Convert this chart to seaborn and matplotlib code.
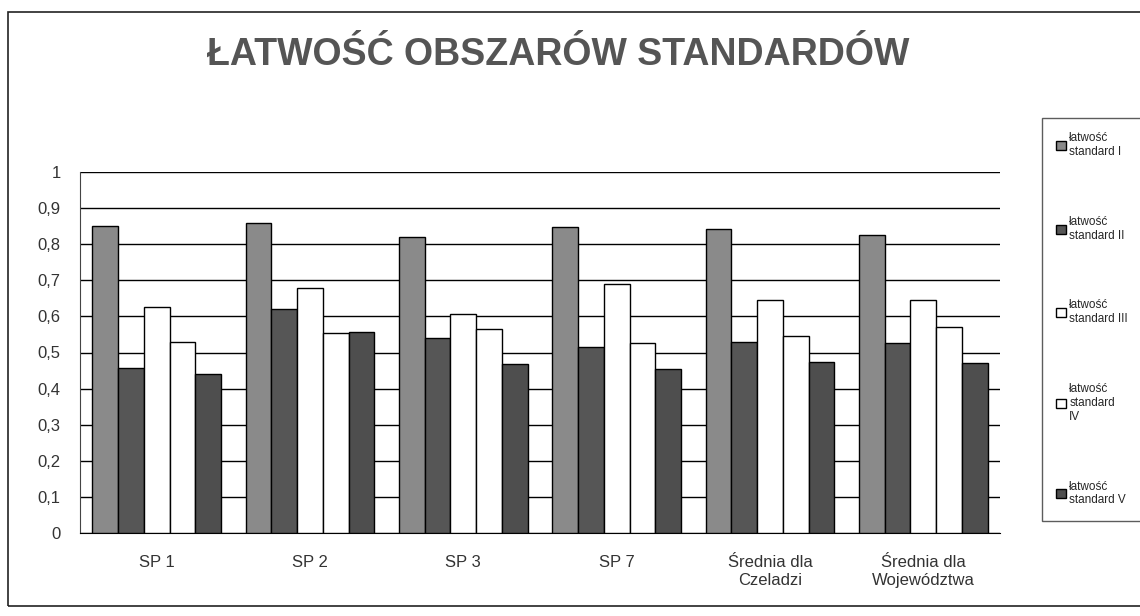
import pandas as pd
import seaborn as sns
from matplotlib import pyplot as plt
from matplotlib.patches import Rectangle
from matplotlib.ticker import FuncFormatter

schools = ['SP 1', 'SP 2', 'SP 3', 'SP 7', 'Średnia dla\nCzeladzi', 'Średnia dla\nWojewództwa']
standards = ['łatwość\nstandard I', 'łatwość\nstandard II', 'łatwość\nstandard III',
             'łatwość\nstandard\nIV', 'łatwość\nstandard V']

std_1 = [0.85, 0.86, 0.82, 0.848, 0.843, 0.826]
std_2 = [0.458, 0.62, 0.54, 0.515, 0.53, 0.525]
std_3 = [0.627, 0.678, 0.608, 0.69, 0.645, 0.645]
std_4 = [0.528, 0.553, 0.565, 0.525, 0.545, 0.57]
std_5 = [0.44, 0.558, 0.468, 0.453, 0.475, 0.47]

colors = ['#8a8a8a', '#565656', '#ffffff', '#ffffff', '#4e4e4e']

rows = []
for name, vals in zip(standards, [std_1, std_2, std_3, std_4, std_5]):
    for school, v in zip(schools, vals):
        rows.append({'school': school, 'standard': name, 'value': v})
df = pd.DataFrame(rows)

sns.set_style('white')
plt.rcParams['font.family'] = ['Liberation Sans', 'DejaVu Sans']

fig = plt.figure(figsize=(11.4, 6.16), dpi=100)
ax = fig.add_axes([80 / 1140, 1 - 533 / 616, 920 / 1140, 361 / 616])

# outer chart frame
fig.patches.append(Rectangle((8 / 1140, 10 / 616), 1.0, 594 / 616, transform=fig.transFigure,
                             fill=False, edgecolor='#222222', lw=1.2))

sns.barplot(data=df, x='school', y='value', hue='standard', palette=colors,
            width=0.84, gap=0, edgecolor='black', linewidth=1.0, ax=ax, zorder=3)

ax.set_ylim(0, 1)
ax.set_yticks([i / 10 for i in range(11)])
ax.yaxis.set_major_formatter(FuncFormatter(lambda v, _: ('%g' % round(v, 1)).replace('.', ',')))
ax.grid(axis='y', color='black', lw=1.0, zorder=0)
ax.set_axisbelow(True)
for s in ['right', 'top']:
    ax.spines[s].set_visible(False)
ax.spines['left'].set_color('#444444')
ax.spines['bottom'].set_color('black')
ax.set_xlabel('')
ax.set_ylabel('')
ax.tick_params(axis='y', labelsize=12, colors='#333333', length=0, pad=14)
ax.tick_params(axis='x', labelsize=12, colors='#333333', length=0, pad=16)

fig.text(0.49, 1 - 55 / 616, 'ŁATWOŚĆ OBSZARÓW STANDARDÓW', ha='center', va='center',
         fontsize=27, fontweight='bold', color='#555555')

leg = ax.legend(loc='upper left', bbox_to_anchor=(1042 / 1140, 1 - 118 / 616),
                bbox_transform=fig.transFigure, frameon=True, fancybox=False,
                fontsize=8.5, labelspacing=4.9, handlelength=0.8, handleheight=0.8,
                handletextpad=0.3, borderpad=1.2, borderaxespad=0, title=None)
leg.get_frame().set_edgecolor('#333333')
leg.get_frame().set_linewidth(1.0)

fig.savefig('out.png', dpi=100)
